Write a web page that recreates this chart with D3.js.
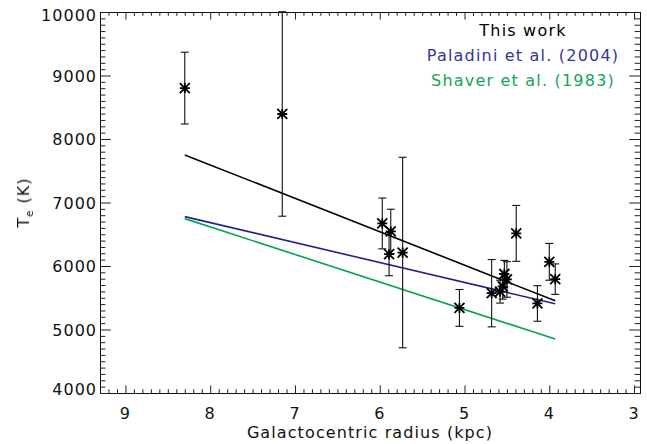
<!DOCTYPE html>
<html>
<head>
<meta charset="utf-8">
<script src="https://cdn.jsdelivr.net/npm/d3@7"></script>
<style>
  html, body { margin: 0; padding: 0; background: #fff; }
  svg text { font-family: "DejaVu Sans", sans-serif; }
  .ytitle { will-change: transform; }
</style>
</head>
<body>
<svg id="chart" width="647" height="444"></svg>
<script>
// HII region electron temperatures vs galactocentric radius
const radius  = [8.30, 7.15, 5.97, 5.87, 5.89, 5.73, 5.06, 4.68, 4.58, 4.55, 4.53, 4.50, 4.39, 4.14, 4.00, 3.93];
const temp    = [8802, 8394, 6670, 6544, 6187, 6212, 5340, 5572, 5596, 5678, 5874, 5788, 6514, 5410, 6066, 5793];
const tempErr = [565, 1610, 400, 350, 340, 1500, 290, 530, 180, 200, 215, 280, 440, 280, 290, 240];

// gradient fits, drawn over the range of the data
const fitRadius   = [8.30, 3.93];
const fitThisWork = [7749, 5451];
const fitPaladini = [6778, 5404];
const fitShaver   = [6746, 4850];

const legendLabels = ["This work", "Paladini et al. (2004)", "Shaver et al. (1983)"];
const xTicks = [9, 8, 7, 6, 5, 4, 3];
const yTicks = [4000, 5000, 6000, 7000, 8000, 9000, 10000];

const C = { thisWork: "#000", paladini: "#22228c", shaver: "#00a651",
            paladiniText: "#35359a", shaverText: "#16a35a" };

const svg = d3.select("#chart");
const M = { left: 100, right: 640, top: 12, bottom: 393 };

const x = d3.scaleLinear().domain([9.3, 2.93]).range([M.left, M.right]);
const y = d3.scaleLinear().domain([4000, 10000]).range([M.bottom, M.top]);

const xMinor = d3.range(30, 93).map(d => d / 10).filter(d => !xTicks.includes(d));
const yMinor = d3.range(40, 101).map(d => d * 100).filter(d => !yTicks.includes(d));

const xLen = 0.02 * (M.bottom - M.top), yLen = 0.02 * (M.right - M.left);

function styleAxis(g) {
  g.select(".domain").attr("stroke", "#111");
  g.selectAll(".tick line").attr("stroke", "#222");
  g.selectAll(".tick text").remove();
}

// frame ticks, all four sides pointing in
const axes = svg.append("g");
axes.append("g").attr("transform", `translate(0,${M.bottom})`)
  .call(d3.axisBottom(x).tickValues(xTicks).tickSize(-xLen).tickSizeOuter(0)).call(styleAxis);
axes.append("g").attr("transform", `translate(0,${M.bottom})`)
  .call(d3.axisBottom(x).tickValues(xMinor).tickSize(-xLen / 2).tickSizeOuter(0)).call(styleAxis);
axes.append("g").attr("transform", `translate(0,${M.top})`)
  .call(d3.axisTop(x).tickValues(xTicks).tickSize(-xLen).tickSizeOuter(0)).call(styleAxis);
axes.append("g").attr("transform", `translate(0,${M.top})`)
  .call(d3.axisTop(x).tickValues(xMinor).tickSize(-xLen / 2).tickSizeOuter(0)).call(styleAxis);
axes.append("g").attr("transform", `translate(${M.left},0)`)
  .call(d3.axisLeft(y).tickValues(yTicks).tickSize(-yLen).tickSizeOuter(0)).call(styleAxis);
axes.append("g").attr("transform", `translate(${M.left},0)`)
  .call(d3.axisLeft(y).tickValues(yMinor).tickSize(-yLen / 2).tickSizeOuter(0)).call(styleAxis);
axes.append("g").attr("transform", `translate(${M.right},0)`)
  .call(d3.axisRight(y).tickValues(yTicks).tickSize(-yLen).tickSizeOuter(0)).call(styleAxis);
axes.append("g").attr("transform", `translate(${M.right},0)`)
  .call(d3.axisRight(y).tickValues(yMinor).tickSize(-yLen / 2).tickSizeOuter(0)).call(styleAxis);

// tick labels (end labels kept inside the frame, as in the original)
svg.selectAll(".xlab").data(xTicks).enter().append("text")
  .attr("x", d => x(d)).attr("y", 419)
  .attr("text-anchor", "middle")
  .style("font-size", "16px").style("letter-spacing", "1px").style("fill", "#111")
  .text(d => d);
svg.selectAll(".ylab").data(yTicks).enter().append("text")
  .attr("x", 97).attr("y", d => Math.min(Math.max(y(d), 15), 389) + 6)
  .attr("text-anchor", "end")
  .style("font-size", "16px").style("letter-spacing", "1px").style("fill", "#111")
  .text(d => d);

// axis titles
svg.append("text").attr("x", (M.left + M.right) / 2).attr("y", 438)
  .attr("text-anchor", "middle")
  .style("font-size", "16px").style("letter-spacing", "1.1px").style("fill", "#111")
  .text("Galactocentric radius (kpc)");
const yt = svg.append("text").attr("class", "ytitle")
  .attr("transform", `translate(29,${(M.top + M.bottom) / 2}) rotate(-90)`)
  .attr("text-anchor", "middle")
  .style("font-size", "16px").style("letter-spacing", "1px")
  .style("fill", "#111").style("opacity", 0.999);
yt.append("tspan").text("T");
yt.append("tspan").attr("dy", 4).style("font-size", "10px").text("e");
yt.append("tspan").attr("dy", -4).text(" (K)");

// fit lines
const line = d3.line().x(d => x(d[0])).y(d => y(d[1]));
[[fitThisWork, C.thisWork], [fitPaladini, C.paladini], [fitShaver, C.shaver]].forEach(([vals, col]) => {
  svg.append("path").datum(d3.zip(fitRadius, vals))
    .attr("d", line).attr("fill", "none").attr("stroke", col).attr("stroke-width", 1.6);
});

// error bars
const pts = radius.map((r, i) => ({ r, t: temp[i], e: tempErr[i] }));
const eb = svg.append("g").attr("stroke", "#111").attr("stroke-width", 1.1);
eb.selectAll(".bar").data(pts).enter().append("line")
  .attr("x1", d => x(d.r)).attr("x2", d => x(d.r))
  .attr("y1", d => y(d.t - d.e)).attr("y2", d => y(d.t + d.e));
eb.selectAll(".capT").data(pts).enter().append("line")
  .attr("x1", d => x(d.r) - 4).attr("x2", d => x(d.r) + 4)
  .attr("y1", d => y(d.t + d.e)).attr("y2", d => y(d.t + d.e));
eb.selectAll(".capB").data(pts).enter().append("line")
  .attr("x1", d => x(d.r) - 4).attr("x2", d => x(d.r) + 4)
  .attr("y1", d => y(d.t - d.e)).attr("y2", d => y(d.t - d.e));

// asterisk symbols
const s = 5;
svg.selectAll(".star").data(pts).enter().append("path")
  .attr("transform", d => `translate(${x(d.r)},${y(d.t)})`)
  .attr("d", `M${-s},0H${s}M0,${-s}V${s}M${-s},${-s}L${s},${s}M${-s},${s}L${s},${-s}`)
  .attr("stroke", "#000").attr("stroke-width", 1.8).attr("fill", "none");

// legend
const legColors = [C.thisWork, C.paladiniText, C.shaverText];
svg.selectAll(".leg").data(legendLabels).enter().append("text")
  .attr("x", 523).attr("y", (d, i) => 36 + i * 25)
  .attr("text-anchor", "middle")
  .style("font-size", "16px").style("letter-spacing", "1.2px")
  .style("fill", (d, i) => legColors[i])
  .text(d => d);
</script>
</body>
</html>
